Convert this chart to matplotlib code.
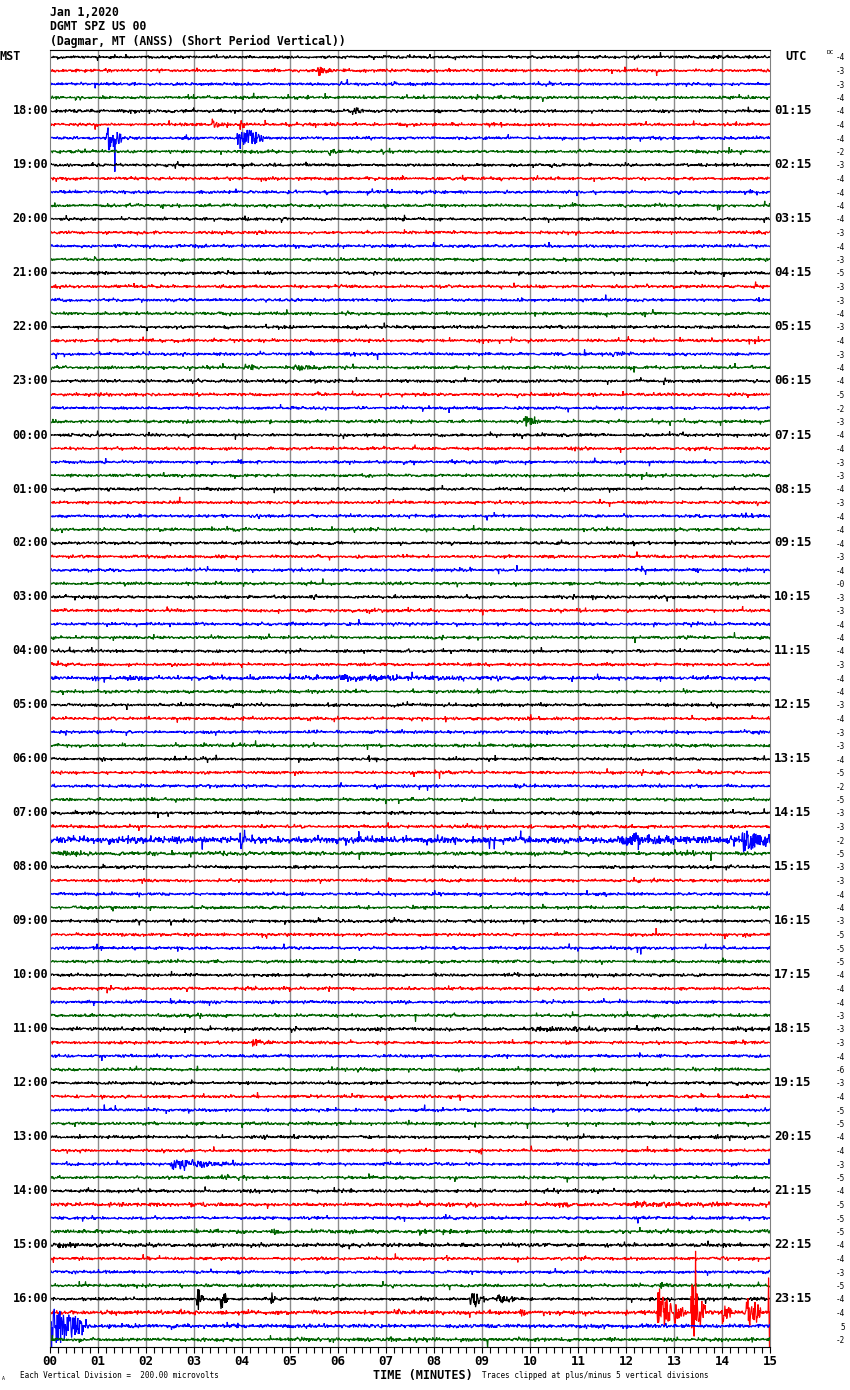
import numpy as np
import matplotlib
matplotlib.use("Agg")
import matplotlib.pyplot as plt

# ---------------- data ----------------
TITLE_LINES = ["Jan 1,2020", "DGMT SPZ US 00", "(Dagmar, MT (ANSS) (Short Period Vertical))"]
N_ROWS = 96
MINUTES = 15
LEFT_LABELS = ["18:00", "19:00", "20:00", "21:00", "22:00", "23:00", "00:00", "01:00",
               "02:00", "03:00", "04:00", "05:00", "06:00", "07:00", "08:00", "09:00",
               "10:00", "11:00", "12:00", "13:00", "14:00", "15:00", "16:00"]
RIGHT_LABELS = ["01:15", "02:15", "03:15", "04:15", "05:15", "06:15", "07:15", "08:15",
                "09:15", "10:15", "11:15", "12:15", "13:15", "14:15", "15:15", "16:15",
                "17:15", "18:15", "19:15", "20:15", "21:15", "22:15", "23:15"]
DC_VALUES = ["-4", "-3", "-3", "-4", "-4", "-4", "-4", "-2", "-3", "-4", "-4", "-4",
             "-4", "-3", "-4", "-3", "-5", "-3", "-3", "-4", "-3", "-4", "-3", "-4",
             "-4", "-5", "-2", "-3", "-4", "-4", "-3", "-3", "-4", "-3", "-4", "-4",
             "-4", "-3", "-4", "-0", "-3", "-3", "-4", "-4", "-4", "-3", "-4", "-4",
             "-3", "-4", "-3", "-3", "-4", "-5", "-2", "-5", "-3", "-3", "-2", "-5",
             "-3", "-3", "-4", "-4", "-3", "-5", "-5", "-5", "-4", "-4", "-4", "-3",
             "-3", "-3", "-4", "-6", "-3", "-4", "-5", "-5", "-4", "-4", "-3", "-5",
             "-4", "-5", "-5", "-5", "-4", "-4", "-3", "-5", "-4", "-4", "5", "-2"]
TRACE_COLORS = ["#000000", "#ff0000", "#0000ff", "#006400"]
X_TICK_LABELS = ["00", "01", "02", "03", "04", "05", "06", "07", "08", "09",
                 "10", "11", "12", "13", "14", "15"]

# background noise level per row (vertical divisions); default + noisier rows
BASE_NOISE = 0.052
NOISY_ROWS = {46: 0.065, 58: 0.11, 59: 0.065, 72: 0.06, 85: 0.065, 88: 0.065,
              93: 0.07, 94: 0.065, 95: 0.065, 87: 0.065}
# events: (row, start minute, duration minutes, peak amplitude in divisions)
EVENTS = [
    (1, 5.55, 0.35, 0.5), (4, 6.3, 0.25, 0.4), (5, 3.35, 0.3, 0.4), (5, 3.95, 0.1, 0.5),
    (6, 1.15, 0.35, 1.35), (6, 3.9, 0.55, 1.1), (7, 5.8, 0.3, 0.35), (7, 6.9, 0.1, 0.35),
    (22, 11.7, 0.3, 0.22), (23, 4.1, 0.4, 0.25), (23, 5.0, 1.4, 0.18), (27, 9.85, 0.35, 0.6),
    (34, 14.4, 0.4, 0.22), (46, 5.8, 3.5, 0.22), (58, 3.95, 0.15, 0.8), (58, 11.8, 2.5, 0.35),
    (58, 14.4, 0.6, 1.2), (59, 0.15, 0.6, 0.3), (70, 2.5, 0.3, 0.22), (72, 10.0, 2.2, 0.2),
    (73, 4.2, 0.4, 0.28), (82, 2.5, 1.2, 0.45), (85, 12.0, 2.8, 0.22), (88, 0.0, 1.3, 0.2),
    (91, 12.7, 0.3, 0.4), (92, 3.05, 0.15, 1.2), (92, 3.55, 0.15, 1.1), (92, 4.6, 0.1, 0.8),
    (92, 8.75, 0.3, 1.0), (92, 9.3, 0.5, 0.4), (93, 2.7, 0.1, 0.35), (93, 7.2, 0.15, 0.35),
    (93, 9.8, 0.1, 0.35), (93, 12.65, 0.3, 2.4), (93, 13.0, 0.2, 1.1), (93, 13.35, 0.3, 2.6),
    (93, 14.0, 0.2, 1.1), (93, 14.5, 0.3, 1.9), (94, 0.0, 0.8, 1.8),
]
# single spikes: (row, minute, amplitude in divisions)
SPIKES = [(6, 1.35, -2.6), (93, 13.45, 4.1), (93, 13.47, -2.0), (93, 14.97, 2.5),
          (93, 14.99, -2.8), (94, 0.03, -1.8), (58, 4.05, 0.9)]
CLIP = 5.0

# ---------------- figure ----------------
W, H = 850, 1390
fig = plt.figure(figsize=(W / 100, H / 100), dpi=100)
ROW0_PX, ROW_PX = 57.0, 13.5
AX_L, AX_R, AX_T, AX_B = 50, 770, 50, 1347
ax = fig.add_axes([AX_L / W, 1 - AX_B / H, (AX_R - AX_L) / W, (AX_B - AX_T) / H])
ax.set_xlim(0, MINUTES)
ax.set_ylim(-(AX_B - ROW0_PX) / ROW_PX, (ROW0_PX - AX_T) / ROW_PX)

def px2y(py):
    return 1 - py / H

rng = np.random.default_rng(7)
n = 1500
t = np.linspace(0, MINUTES, n)
for r in range(N_ROWS):
    lvl = NOISY_ROWS.get(r, BASE_NOISE)
    sig = rng.normal(0, lvl, n)
    burst = rng.random(n) < 0.03
    sig[burst] *= 2.5
    for (er, st, du, amp) in EVENTS:
        if er != r:
            continue
        m = (t >= st) & (t <= st + du)
        tt = (t[m] - st) / du
        env = amp * np.minimum(1.0, tt * 10 + 0.3) * np.exp(-1.4 * tt)
        sig[m] += env * rng.uniform(-1, 1, m.sum())
    for (sr, sm, sa) in SPIKES:
        if sr == r:
            sig[np.argmin(np.abs(t - sm))] += sa
    sig = np.clip(sig, -CLIP, CLIP)
    ax.plot(t, -r + sig, color=TRACE_COLORS[r % 4], lw=0.85, solid_joinstyle="miter")

for m in range(1, MINUTES):
    ax.axvline(m, color="#8c8c8c", lw=1.0, zorder=0)

for s in ["left", "right"]:
    ax.spines[s].set_color("#808080")
ax.spines["top"].set_color("#000000")
ax.spines["top"].set_linewidth(0.8)
ax.spines["bottom"].set_linewidth(0.8)
ax.set_yticks([])
ax.set_xticks(range(MINUTES + 1))
ax.set_xticklabels(X_TICK_LABELS, fontfamily="DejaVu Sans Mono", fontweight="bold", fontsize=9)
ax.set_xticks(np.arange(0, MINUTES + 0.001, 1 / 6), minor=True)
ax.tick_params(axis="x", which="both", direction="out", length=4, width=0.8, pad=2)

mono = dict(fontfamily="DejaVu Sans Mono", fontweight="bold")
for i, line in enumerate(TITLE_LINES):
    fig.text(50 / W, px2y(12 + 14.5 * i), line, fontsize=8.3, va="center", ha="left", **mono)

fig.text(0, px2y(ROW0_PX), "MST", fontsize=8.5, va="center", ha="left", **mono)
fig.text(785 / W, px2y(ROW0_PX), "UTC", fontsize=8.5, va="center", ha="left", **mono)
for k, lab in enumerate(LEFT_LABELS):
    row = 4 + 4 * k
    fig.text(48 / W, px2y(ROW0_PX + ROW_PX * row), lab, fontsize=8.5, va="center", ha="right", **mono)
for k, lab in enumerate(RIGHT_LABELS):
    row = 4 + 4 * k
    fig.text(774 / W, px2y(ROW0_PX + ROW_PX * row), lab, fontsize=9, va="center", ha="left", **mono)
for r, v in enumerate(DC_VALUES):
    fig.text(845 / W, px2y(ROW0_PX + ROW_PX * r + 1), v, fontsize=5.5, va="center", ha="right",
             fontfamily="DejaVu Sans Mono")
fig.text(834 / W, px2y(53), "DC", fontsize=4.5, va="center", ha="right", fontfamily="DejaVu Sans Mono")

fig.text(20 / W, px2y(1376), "Each Vertical Division =  200.00 microvolts", fontsize=5.5,
         va="center", ha="left", fontfamily="DejaVu Sans Mono")
fig.text(373 / W, px2y(1375), "TIME (MINUTES)", fontsize=8.5, va="center", ha="left", **mono)
fig.text(482 / W, px2y(1376), "Traces clipped at plus/minus 5 vertical divisions", fontsize=5.5,
         va="center", ha="left", fontfamily="DejaVu Sans Mono")
fig.text(2 / W, px2y(1379), "A", fontsize=3.5, va="center", ha="left", fontfamily="DejaVu Sans Mono")

fig.savefig("out.png", dpi=100)
